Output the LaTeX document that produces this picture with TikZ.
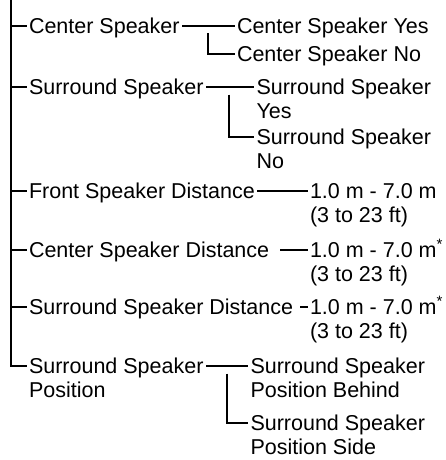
\documentclass[tikz,border=0pt]{standalone}
\usepackage{fontspec}
\setmainfont{Liberation Sans}
\usetikzlibrary{positioning,calc}
\tikzset{
  item/.style={anchor=base west,inner sep=0pt,outer sep=2.5pt,align=left,
    font=\fontsize{21.5}{23.5}\selectfont},
  link/.style={draw=black,line width=1.8pt},
  trunk/.style={draw=black,line width=2.6pt}
}
\begin{document}
\begin{tikzpicture}[x=1pt,y=-1pt]
  \useasboundingbox (0,0) rectangle (445,460);
  % first level (two-line nodes sit on their second baseline)
  \node[item] (cs) at (26.5,33.5) {Center Speaker};
  \node[item] (ss) at (26.5,94.5) {Surround Speaker};
  \node[item] (fsd) at (26.5,198.5) {Front Speaker Distance};
  \node[item] (csd) at (26.5,257.5) {Center Speaker Distance};
  \node[item] (ssd) at (26.5,314.5) {Surround Speaker Distance};
  \node[item] (ssp) at (26.5,397) {Surround Speaker\\Position};
  % second level
  \node[item] (csy) at (234.5,33.5) {Center Speaker Yes};
  \node[item] (csn) at (234.5,61.5) {Center Speaker No};
  \node[item] (ssy) at (254,118) {Surround Speaker\\Yes};
  \node[item] (ssn) at (254,168) {Surround Speaker\\No};
  \node[item] (fsv) at (307.5,222) {1.0 m - 7.0 m\\(3 to 23 ft)};
  \node[item] (csv) at (307.5,281) {1.0 m - 7.0 m\textsuperscript{*}\\(3 to 23 ft)};
  \node[item] (ssv) at (307.5,338) {1.0 m - 7.0 m\textsuperscript{*}\\(3 to 23 ft)};
  \node[item] (sspb) at (248,397) {Surround Speaker\\Position Behind};
  \node[item] (ssps) at (248,454) {Surround Speaker\\Position Side};
  \coordinate (top) at (11,0);
  \coordinate (j1) at (208,33.5);
  \coordinate (j2) at (229,94.5);
  \coordinate (j3) at (227,373.5);
  % tree lines
  \draw[trunk] (top) |- ([yshift=31pt]ssp.base west);
  \foreach \n in {cs,ss,fsd,csd,ssd}
    \draw[link] ([yshift=7.5pt]\n.base west) -- ++(-15.5,0);
  \draw[link] ([yshift=7.5pt]cs.base east) -- ([yshift=7.5pt]csy.base west);
  \draw[link] (j1) |- ([yshift=7.5pt]csn.base west);
  \draw[link] ([yshift=7.5pt]ss.base east) -- ([yshift=31pt]ssy.base west);
  \draw[link] (j2) |- ([yshift=31pt]ssn.base west);
  \draw[link] ([yshift=7.5pt]fsd.base east) -- ([yshift=31pt]fsv.base west);
  \draw[link,shorten <=8.5pt] ([yshift=7.5pt]csd.base east) -- ([yshift=31pt]csv.base west);
  \draw[link,shorten <=4.5pt] ([yshift=7.5pt]ssd.base east) -- ([yshift=31pt]ssv.base west);
  \draw[link] ([yshift=31pt]ssp.base east) -- ([yshift=31pt]sspb.base west);
  \draw[link] (j3) |- ([yshift=31pt]ssps.base west);
\end{tikzpicture}
\end{document}
